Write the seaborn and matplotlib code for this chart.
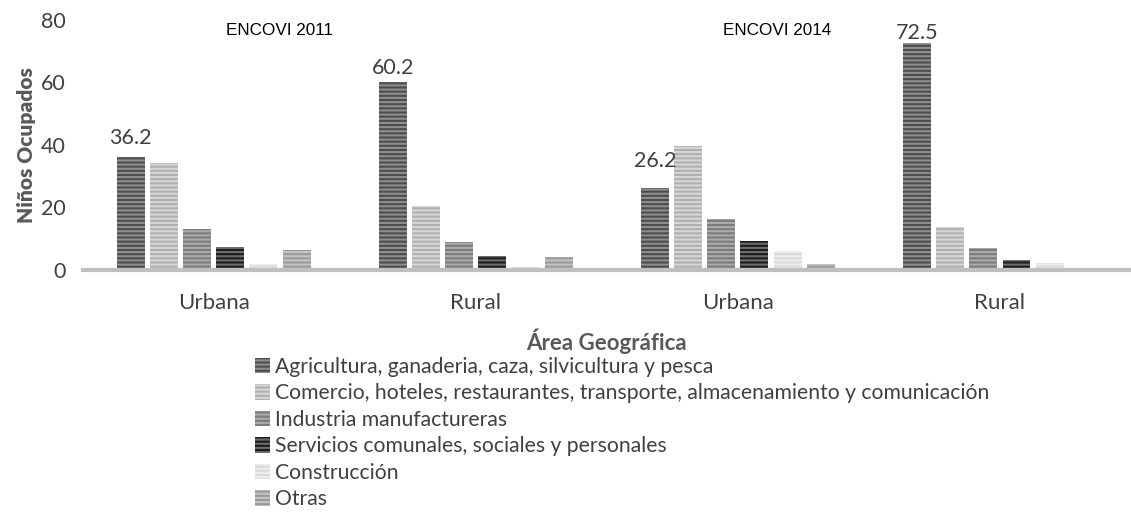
import pandas as pd
import numpy as np
import matplotlib
matplotlib.use('Agg')
import matplotlib.pyplot as plt
import seaborn as sns

# --- data ---
groups = ['Urbana 2011', 'Rural 2011', 'Urbana 2014', 'Rural 2014']
group_labels = ['Urbana', 'Rural', 'Urbana', 'Rural']
sectors = [
    'Agricultura, ganaderia, caza, silvicultura y pesca',
    'Comercio, hoteles, restaurantes, transporte, almacenamiento y comunicación',
    'Industria manufactureras',
    'Servicios comunales, sociales y personales',
    'Construcción',
    'Otras',
]
agricultura = [36.2, 60.2, 26.2, 72.5]
comercio = [34.2, 20.4, 39.5, 13.7]
industria = [13.2, 8.8, 16.4, 6.9]
servicios = [7.2, 4.3, 9.1, 3.0]
construccion = [1.8, 1.0, 6.0, 2.3]
otras = [6.2, 4.0, 2.0, 0.0]
survey_titles = ['ENCOVI 2011', 'ENCOVI 2014']

face_colors = ['#4d4d4d', '#b0b0b0', '#7c7c7c', '#1c1c1c', '#dadada', '#9a9a9a']
stripe_colors = ['#8e8e8e', '#d6d6d6', '#ababab', '#6e6e6e', '#ececec', '#c4c4c4']
label_offsets = [6, 3, 12, 0]  # points above the bar, as in the original

series = [agricultura, comercio, industria, servicios, construccion, otras]
rows = []
for sec, vals in zip(sectors, series):
    for g, v in zip(groups, vals):
        rows.append({'grupo': g, 'sector': sec, 'valor': v})
df = pd.DataFrame(rows)

sns.set_style('white')
plt.rcParams['font.family'] = ['Lato', 'DejaVu Sans']
plt.rcParams['hatch.linewidth'] = 1.5

fig = plt.figure(figsize=(11.31, 5.12), dpi=100)
ax = fig.add_axes([0.073, 0.473, 0.927, 0.488])

sns.barplot(data=df, x='grupo', y='valor', hue='sector', order=groups,
            hue_order=sectors, palette=face_colors, width=0.76, gap=0.16,
            ax=ax, legend=True)

for cont, fc, sc in zip(ax.containers, face_colors, stripe_colors):
    for bar in cont:
        bar.set_facecolor(fc)
        bar.set_edgecolor(sc)
        bar.set_hatch('----')
        bar.set_linewidth(0)

ax.set_ylim(0, 80)
ax.set_xlim(-0.5, 3.5)
ax.set_yticks([0, 20, 40, 60, 80])
ax.tick_params(axis='y', length=0, labelsize=15.5, labelcolor='#404040', pad=12)
ax.tick_params(axis='x', length=0, labelsize=16, labelcolor='#404040', pad=17)
ax.set_xticks(range(len(groups)))
ax.set_xticklabels(group_labels)
for s in ['top', 'right', 'left']:
    ax.spines[s].set_visible(False)
ax.spines['bottom'].set_color('#bfbfbf')
ax.spines['bottom'].set_linewidth(3)

ax.set_ylabel('Niños Ocupados', fontsize=15, fontweight='heavy', color='#595959')
ax.yaxis.set_label_coords(-0.044, 0.5)
ax.set_xlabel('Área Geográfica', fontsize=16, fontweight='bold', color='#595959', labelpad=11)

# value labels on the agriculture bars
for bar, v, off in zip(ax.containers[0], agricultura, label_offsets):
    ax.annotate(f'{v:.1f}', (bar.get_x() + bar.get_width() / 2, bar.get_height()),
                xytext=(0, off), textcoords='offset points', ha='center', va='bottom',
                fontsize=15.5, color='#404040')

ax.text(0.25, 76.5, survey_titles[0], ha='center', va='center', fontsize=12.3,
        family='Liberation Sans', color='black')
ax.text(2.15, 76.5, survey_titles[1], ha='center', va='center', fontsize=12.3,
        family='Liberation Sans', color='black')

leg = ax.legend(loc='upper left', bbox_to_anchor=(0.164, -0.348), frameon=False,
                fontsize=15.2, handlelength=0.75, handleheight=0.75, handletextpad=0.2,
                labelspacing=0.31, borderaxespad=0, borderpad=0)
for t in leg.get_texts():
    t.set_color('#404040')
for h, fc, sc in zip(leg.legend_handles, face_colors, stripe_colors):
    h.set_facecolor(fc)
    h.set_edgecolor(sc)
    h.set_hatch('----')
    h.set_linewidth(0)

fig.savefig('out.png', dpi=100)
